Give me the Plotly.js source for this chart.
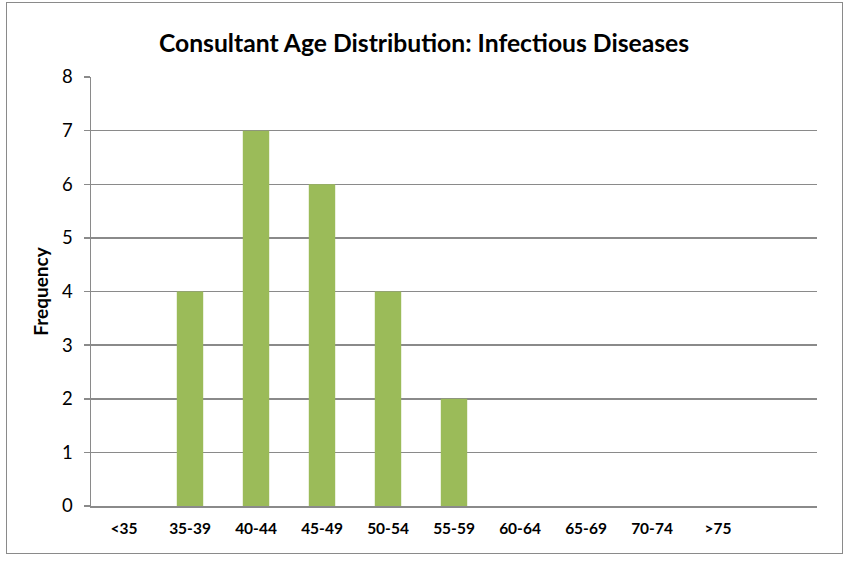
<!DOCTYPE html>
<html>
<head>
<meta charset="utf-8">
<script src="https://cdn.plot.ly/plotly-3.0.1.min.js"></script>
<style>
  html, body { margin: 0; padding: 0; background: #fff; }
  #wrap { position: relative; width: 843px; height: 562px; }
  #chart { position: absolute; left: 0; top: 0; width: 843px; height: 562px; }
  #frame { position: absolute; left: 6px; top: 2px; width: 835px; height: 550px; border: 1.5px solid #8a8a8a; pointer-events: none; }
</style>
</head>
<body>
<div id="wrap"><div id="chart"></div><div id="frame"></div></div>
<script>
const categories = ["<35", "35-39", "40-44", "45-49", "50-54", "55-59", "60-64", "65-69", "70-74", ">75", ""];
const frequency = [0, 4, 7, 6, 4, 2, 0, 0, 0, 0, 0];
const chartTitle = "Consultant Age Distribution: Infectious Diseases";
const yTitle = "Frequency";

const xIdx = categories.map((c, i) => i);
const fontFam = "Lato, 'Open Sans', sans-serif";

const trace = {
  type: "bar",
  x: xIdx,
  y: frequency,
  marker: { color: "#9BBB59", line: { width: 0 } },
  hoverinfo: "skip"
};

const layout = {
  width: 843,
  height: 562,
  margin: { l: 91, r: 26, t: 77, b: 56 },
  paper_bgcolor: "#ffffff",
  plot_bgcolor: "#ffffff",
  bargap: 0.6,
  showlegend: false,
  font: { family: fontFam, color: "#000" },
  title: {
    text: "<b>" + chartTitle + "</b>",
    font: { family: fontFam, size: 24.7, color: "#000" },
    x: 0.503, xanchor: "center",
    y: 0.922, yanchor: "middle"
  },
  xaxis: {
    range: [-0.5, 10.5],
    tickmode: "array",
    tickvals: xIdx,
    ticktext: categories.map(c => "<b>" + c + "</b>"),
    tickfont: { family: fontFam, size: 15.5, color: "#000" },
    ticklabelstandoff: 8,
    showgrid: false,
    zeroline: false,
    showline: true,
    linecolor: "#8a8a8a",
    linewidth: 1.5,
    ticks: "",
    fixedrange: true
  },
  yaxis: {
    range: [0, 8],
    dtick: 1,
    tick0: 0,
    showgrid: true,
    gridcolor: "#8a8a8a",
    gridwidth: 1.5,
    zeroline: false,
    showline: true,
    linecolor: "#8a8a8a",
    linewidth: 1.5,
    ticks: "outside",
    ticklen: 6,
    tickwidth: 1.5,
    tickcolor: "#8a8a8a",
    ticklabelstandoff: 7,
    tickfont: { family: fontFam, size: 18.5, color: "#000" },
    title: {
      text: "<b>" + yTitle + "</b>",
      font: { family: fontFam, size: 19, color: "#000" },
      standoff: 8
    },
    fixedrange: true
  }
};

Plotly.newPlot("chart", [trace], layout, { displayModeBar: false, staticPlot: true });
</script>
</body>
</html>
